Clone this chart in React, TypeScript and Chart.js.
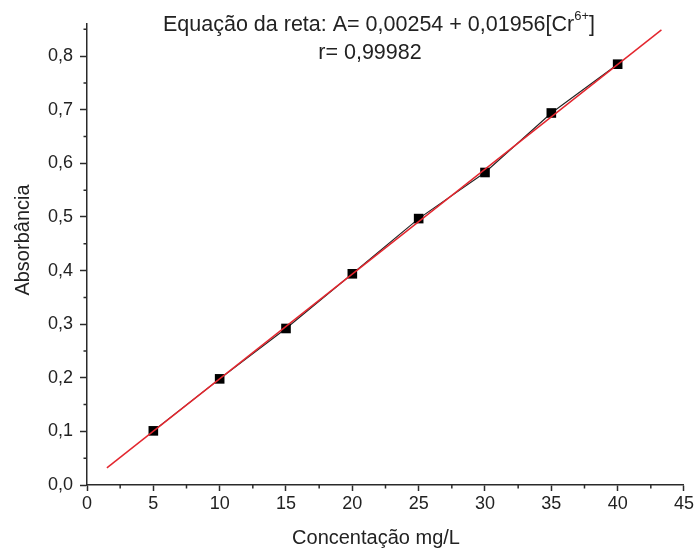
import { useEffect, useRef } from 'react';
import { Chart, registerables } from 'chart.js';

Chart.register(...registerables);

// Data
const concentrations = [5, 10, 15, 20, 25, 30, 35, 40];
const absorbances = [0.101, 0.198, 0.292, 0.394, 0.497, 0.583, 0.694, 0.785];
// Fitted line end points
const fitX = [1.5, 43.3];
const fitY = [0.032, 0.849];
// Minor tick positions
const xMinor = [2.5, 7.5, 12.5, 17.5, 22.5, 27.5, 32.5, 37.5, 42.5];
const yMinor = [0.05, 0.15, 0.25, 0.35, 0.45, 0.55, 0.65, 0.75, 0.85];

const titleLine1 = 'Equação da reta: A= 0,00254 + 0,01956[Cr';
const titleSup = '6+';
const titleEnd = ']';
const titleLine2 = 'r= 0,99982';
const xTitle = 'Concentação mg/L';
const yTitle = 'Absorbância';

const FONT = '"Liberation Sans", Arial, sans-serif';
const AXIS_COLOR = '#2a2a2a';
const TEXT_COLOR = '#222';

const decorPlugin = {
  id: 'decor',
  afterDraw(chart: any) {
    const ctx = chart.ctx as CanvasRenderingContext2D;
    const xs = chart.scales.x;
    const ys = chart.scales.y;
    const area = chart.chartArea;
    ctx.save();
    ctx.strokeStyle = AXIS_COLOR;
    ctx.lineWidth = 1.5;
    ctx.beginPath();
    for (const v of yMinor) {
      const py = ys.getPixelForValue(v);
      ctx.moveTo(area.left, py);
      ctx.lineTo(area.left - 3.5, py);
    }
    for (const v of xMinor) {
      const px = xs.getPixelForValue(v);
      ctx.moveTo(px, area.bottom);
      ctx.lineTo(px, area.bottom + 3.5);
    }
    ctx.stroke();

    // title text
    ctx.fillStyle = TEXT_COLOR;
    ctx.textBaseline = 'alphabetic';
    ctx.font = `21.5px ${FONT}`;
    const w1 = ctx.measureText(titleLine1).width;
    ctx.font = `13px ${FONT}`;
    const ws = ctx.measureText(titleSup).width;
    ctx.font = `21.5px ${FONT}`;
    const we = ctx.measureText(titleEnd).width;
    const total = w1 + ws + we;
    const x0 = 379 - total / 2;
    ctx.textAlign = 'left';
    ctx.fillText(titleLine1, x0, 31);
    ctx.font = `13px ${FONT}`;
    ctx.fillText(titleSup, x0 + w1, 20);
    ctx.font = `21.5px ${FONT}`;
    ctx.fillText(titleEnd, x0 + w1 + ws, 31);
    ctx.textAlign = 'center';
    ctx.fillText(titleLine2, 370, 59);

    // axis titles
    ctx.font = `20px ${FONT}`;
    ctx.textBaseline = 'middle';
    ctx.fillText(xTitle, 376, 538);
    ctx.translate(23, 240);
    ctx.rotate(-Math.PI / 2);
    ctx.fillText(yTitle, 0, 0);
    ctx.restore();
  },
};

export default function App() {
  const canvasRef = useRef<HTMLCanvasElement | null>(null);

  useEffect(() => {
    document.body.style.margin = '0';
    const canvas = canvasRef.current;
    if (!canvas) return;
    const chart = new Chart(canvas, {
      type: 'scatter',
      data: {
        datasets: [
          {
            label: 'fit',
            data: fitX.map((x, i) => ({ x, y: fitY[i] })),
            showLine: true,
            borderColor: '#e3262e',
            borderWidth: 1.5,
            pointRadius: 0,
            order: 0,
          },
          {
            label: 'data',
            data: concentrations.map((x, i) => ({ x, y: absorbances[i] })),
            showLine: true,
            borderColor: '#222',
            backgroundColor: '#000',
            borderWidth: 1.1,
            pointStyle: 'rect',
            pointRadius: 6.8,
            pointBorderWidth: 0,
            order: 1,
          },
        ],
      },
      options: {
        animation: false,
        responsive: false,
        layout: { padding: { top: 24, right: 11, left: 0, bottom: 0 } },
        plugins: {
          legend: { display: false },
          tooltip: { enabled: false },
          title: { display: false },
        },
        scales: {
          x: {
            type: 'linear',
            min: 0,
            max: 45,
            afterFit: (s: any) => {
              s.height = 71;
            },
            ticks: {
              stepSize: 5,
              color: TEXT_COLOR,
              font: { family: FONT, size: 18 },
              padding: 2,
              callback: (v: any) => String(v),
            },
            grid: {
              drawOnChartArea: false,
              drawTicks: true,
              tickLength: 6,
              tickColor: AXIS_COLOR,
              tickWidth: 1.5,
            },
            border: { display: true, color: AXIS_COLOR, width: 1.5 },
            title: { display: false },
          },
          y: {
            type: 'linear',
            min: 0,
            max: 0.86,
            afterFit: (s: any) => {
              s.width = 87;
            },
            ticks: {
              stepSize: 0.1,
              includeBounds: false,
              color: TEXT_COLOR,
              font: { family: FONT, size: 18 },
              padding: 7,
              callback: (v: any) => Number(v).toFixed(1).replace('.', ','),
            },
            grid: {
              drawOnChartArea: false,
              drawTicks: true,
              tickLength: 7,
              tickColor: AXIS_COLOR,
              tickWidth: 1.5,
            },
            border: { display: true, color: AXIS_COLOR, width: 1.5 },
            title: { display: false },
          },
        },
      },
      plugins: [decorPlugin],
    });
    return () => chart.destroy();
  }, []);

  return (
    <div style={{ width: 696, height: 556 }}>
      <canvas ref={canvasRef} width={696} height={556} style={{ display: 'block' }} />
    </div>
  );
}
